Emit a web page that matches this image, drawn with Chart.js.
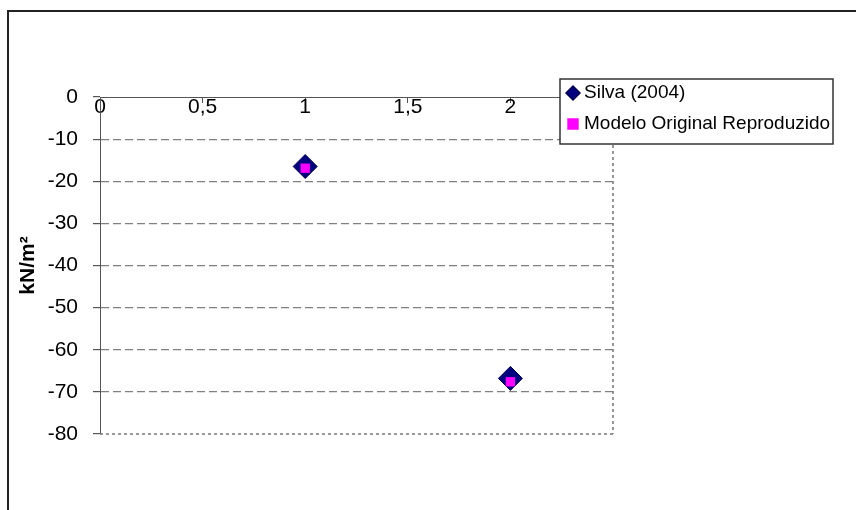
<!DOCTYPE html>
<html>
<head>
<meta charset="utf-8">
<script src="https://cdn.jsdelivr.net/npm/chart.js@4/dist/chart.umd.min.js"></script>
<style>
  body { margin: 0; background: #fff; }
  canvas { display: block; }
</style>
</head>
<body>
<canvas id="myCanvas" width="856" height="510"></canvas>
<script>
const xValues = [1, 2];
const silvaValues = [-16.5, -66.8];
const modeloValues = [-16.9, -67.6];
const seriesNames = ["Silva (2004)", "Modelo Original Reproduzido"];
const yTitle = "kN/m²";

const FONT = "'Liberation Sans', Arial, sans-serif";

// moldura externa e bordas pontilhadas do gráfico
const framePlugin = {
  id: "frame",
  beforeDraw(chart) {
    const ctx = chart.ctx;
    ctx.save();
    ctx.strokeStyle = "#222";
    ctx.lineWidth = 2;
    ctx.strokeRect(8, 11, 900, 600);
    ctx.restore();
  },
  afterDatasetsDraw(chart) {
    const ctx = chart.ctx;
    const a = chart.chartArea;
    ctx.save();
    ctx.strokeStyle = "#777";
    ctx.lineWidth = 1.5;
    ctx.setLineDash([3, 3]);
    ctx.beginPath();
    ctx.moveTo(a.right, a.top);
    ctx.lineTo(a.right, a.bottom);
    ctx.moveTo(a.left, a.bottom);
    ctx.lineTo(a.right, a.bottom);
    ctx.stroke();
    ctx.restore();
  },
  afterDraw(chart) {
    // legenda sobreposta ao canto superior direito
    const ctx = chart.ctx;
    const box = { x: 560, y: 79, w: 273, h: 65 };
    ctx.save();
    ctx.fillStyle = "#fff";
    ctx.fillRect(box.x, box.y, box.w, box.h);
    ctx.strokeStyle = "#333";
    ctx.lineWidth = 1.5;
    ctx.strokeRect(box.x, box.y, box.w, box.h);

    const rows = [93, 124];
    chart.data.datasets.forEach((ds, i) => {
      const y = rows[i];
      ctx.fillStyle = ds.backgroundColor;
      ctx.strokeStyle = ds.borderColor;
      Chart.helpers.drawPoint(ctx, { pointStyle: ds.pointStyle, radius: 7, rotation: 0, borderWidth: 1 }, 573, y);
      ctx.fillStyle = "#000";
      ctx.font = "19px " + FONT;
      ctx.textBaseline = "middle";
      ctx.textAlign = "left";
      ctx.fillText(ds.label, 584, y);
    });
    ctx.restore();
  }
};

const ctx = document.getElementById("myCanvas").getContext("2d");

new Chart(ctx, {
  type: "scatter",
  data: {
    datasets: [
      {
        label: seriesNames[0],
        data: xValues.map((x, i) => ({ x: x, y: silvaValues[i] })),
        pointStyle: "rectRot",
        pointRadius: 12,
        borderWidth: 1,
        backgroundColor: "#000080",
        borderColor: "#000050",
        order: 1
      },
      {
        label: seriesNames[1],
        data: xValues.map((x, i) => ({ x: x, y: modeloValues[i] })),
        pointStyle: "rect",
        pointRadius: 6.6,
        borderWidth: 0,
        backgroundColor: "#ff00ff",
        borderColor: "#ff00ff",
        order: 0
      }
    ]
  },
  options: {
    responsive: false,
    animation: false,
    layout: { padding: { left: 8, top: 97, right: 243, bottom: 76 } },
    plugins: {
      legend: { display: false },
      tooltip: { enabled: false }
    },
    scales: {
      x: {
        type: "linear",
        position: { y: 0 },
        min: 0,
        max: 2.5,
        ticks: {
          stepSize: 0.5,
          padding: -7,
          color: "#000",
          font: { family: FONT, size: 21 },
          callback: (v) => String(v).replace(".", ",")
        },
        grid: {
          drawOnChartArea: false,
          drawTicks: true,
          tickLength: 5,
          tickColor: "#555",
          tickBorderDash: []
        },
        border: { display: true, color: "#555", width: 1 }
      },
      y: {
        min: -80,
        max: 0,
        ticks: {
          stepSize: 10,
          padding: 15,
          color: "#000",
          font: { family: FONT, size: 21 }
        },
        title: {
          display: true,
          text: yTitle,
          color: "#000",
          padding: { top: 8, bottom: 0 },
          font: { family: FONT, size: 21, weight: "bold" }
        },
        grid: {
          color: (c) => (c.tick && (c.tick.value === 0 || c.tick.value === -80)) ? "transparent" : "#808080",
          lineWidth: 1.2,
          tickLength: 7,
          tickColor: "#555",
          tickBorderDash: []
        },
        border: { display: true, color: "#555", width: 1, dash: [8, 4] },
        afterFit: (scale) => { scale.width = 92; }
      }
    }
  },
  plugins: [framePlugin]
});
</script>
</body>
</html>
